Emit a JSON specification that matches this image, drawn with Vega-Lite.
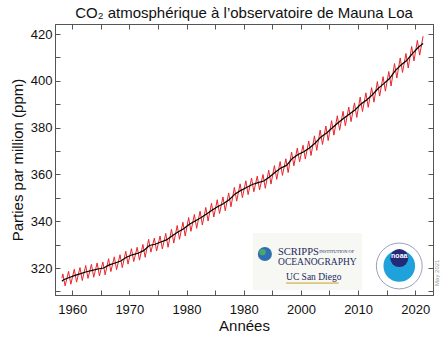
{
  "$schema": "https://vega.github.io/schema/vega-lite/v6.json",
  "width": 378,
  "height": 271,
  "autosize": {"type": "none"},
  "padding": {"left": 55, "top": 24, "right": 11, "bottom": 42},
  "background": "white",
  "config": {
    "font": "Liberation Sans",
    "view": {"stroke": "#555", "strokeWidth": 1},
    "axis": {
      "grid": false,
      "domainColor": "#555",
      "tickColor": "#555",
      "tickSize": -5,
      "labelFont": "Liberation Sans",
      "labelFontSize": 13,
      "labelColor": "#111",
      "titleFont": "Liberation Sans",
      "titleFontSize": 15,
      "titleFontWeight": "normal",
      "titleColor": "#111"
    }
  },
  "title": {
    "text": "CO₂ atmosphérique à l’observatoire de Mauna Loa",
    "fontSize": 15,
    "fontWeight": "normal",
    "font": "Liberation Sans",
    "color": "#111",
    "anchor": "middle",
    "baseline": "alphabetic",
    "offset": -9
  },
  "datasets": {
    "seasonal": [
      {"t": 1958.21, "co2": 315.7}, {"t": 1958.37, "co2": 317.5}, {"t": 1958.77, "co2": 312.4},
      {"t": 1959.37, "co2": 318.6}, {"t": 1959.77, "co2": 313.1},
      {"t": 1960.37, "co2": 319.5}, {"t": 1960.77, "co2": 314.0},
      {"t": 1961.37, "co2": 320.2}, {"t": 1961.77, "co2": 314.7},
      {"t": 1962.37, "co2": 321.1}, {"t": 1962.77, "co2": 315.6},
      {"t": 1963.37, "co2": 321.6}, {"t": 1963.77, "co2": 316.1},
      {"t": 1964.37, "co2": 322.2}, {"t": 1964.77, "co2": 316.7},
      {"t": 1965.37, "co2": 322.6}, {"t": 1965.77, "co2": 317.1},
      {"t": 1966.37, "co2": 324.0}, {"t": 1966.77, "co2": 318.5},
      {"t": 1967.37, "co2": 324.8}, {"t": 1967.77, "co2": 319.3},
      {"t": 1968.37, "co2": 325.7}, {"t": 1968.77, "co2": 320.2},
      {"t": 1969.37, "co2": 327.2}, {"t": 1969.77, "co2": 321.7},
      {"t": 1970.37, "co2": 328.3}, {"t": 1970.77, "co2": 322.8},
      {"t": 1971.37, "co2": 328.9}, {"t": 1971.77, "co2": 323.4},
      {"t": 1972.37, "co2": 330.1}, {"t": 1972.77, "co2": 324.6},
      {"t": 1973.37, "co2": 332.3}, {"t": 1973.77, "co2": 326.8},
      {"t": 1974.37, "co2": 332.8}, {"t": 1974.77, "co2": 327.3},
      {"t": 1975.37, "co2": 333.7}, {"t": 1975.77, "co2": 328.2},
      {"t": 1976.37, "co2": 334.8}, {"t": 1976.77, "co2": 328.9},
      {"t": 1977.37, "co2": 336.6}, {"t": 1977.77, "co2": 330.7},
      {"t": 1978.37, "co2": 338.2}, {"t": 1978.77, "co2": 332.3},
      {"t": 1979.37, "co2": 339.6}, {"t": 1979.77, "co2": 333.7},
      {"t": 1980.37, "co2": 341.6}, {"t": 1980.77, "co2": 335.7},
      {"t": 1981.37, "co2": 342.9}, {"t": 1981.77, "co2": 337.0},
      {"t": 1982.37, "co2": 344.3}, {"t": 1982.77, "co2": 338.4},
      {"t": 1983.37, "co2": 345.9}, {"t": 1983.77, "co2": 340.1},
      {"t": 1984.37, "co2": 347.7}, {"t": 1984.77, "co2": 341.8},
      {"t": 1985.37, "co2": 349.2}, {"t": 1985.77, "co2": 343.3},
      {"t": 1986.37, "co2": 350.4}, {"t": 1986.77, "co2": 344.5},
      {"t": 1987.37, "co2": 352.1}, {"t": 1987.77, "co2": 346.2},
      {"t": 1988.37, "co2": 354.5}, {"t": 1988.77, "co2": 348.6},
      {"t": 1989.37, "co2": 356.0}, {"t": 1989.77, "co2": 350.1},
      {"t": 1990.37, "co2": 357.3}, {"t": 1990.77, "co2": 351.4},
      {"t": 1991.37, "co2": 358.5}, {"t": 1991.77, "co2": 352.6},
      {"t": 1992.37, "co2": 359.3}, {"t": 1992.77, "co2": 353.4},
      {"t": 1993.37, "co2": 360.0}, {"t": 1993.77, "co2": 354.1},
      {"t": 1994.37, "co2": 361.8}, {"t": 1994.77, "co2": 355.9},
      {"t": 1995.37, "co2": 363.8}, {"t": 1995.77, "co2": 357.9},
      {"t": 1996.37, "co2": 365.5}, {"t": 1996.77, "co2": 359.6},
      {"t": 1997.37, "co2": 366.7}, {"t": 1997.77, "co2": 360.8},
      {"t": 1998.37, "co2": 369.6}, {"t": 1998.77, "co2": 363.7},
      {"t": 1999.37, "co2": 371.3}, {"t": 1999.77, "co2": 365.4},
      {"t": 2000.37, "co2": 372.5}, {"t": 2000.77, "co2": 366.6},
      {"t": 2001.37, "co2": 374.3}, {"t": 2001.77, "co2": 368.1},
      {"t": 2002.37, "co2": 376.5}, {"t": 2002.77, "co2": 370.3},
      {"t": 2003.37, "co2": 379.0}, {"t": 2003.77, "co2": 372.8},
      {"t": 2004.37, "co2": 380.7}, {"t": 2004.77, "co2": 374.5},
      {"t": 2005.37, "co2": 383.0}, {"t": 2005.77, "co2": 376.8},
      {"t": 2006.37, "co2": 385.1}, {"t": 2006.77, "co2": 378.9},
      {"t": 2007.37, "co2": 387.0}, {"t": 2007.77, "co2": 380.8},
      {"t": 2008.37, "co2": 388.8}, {"t": 2008.77, "co2": 382.6},
      {"t": 2009.37, "co2": 390.6}, {"t": 2009.77, "co2": 384.4},
      {"t": 2010.37, "co2": 393.1}, {"t": 2010.77, "co2": 386.9},
      {"t": 2011.37, "co2": 394.9}, {"t": 2011.77, "co2": 388.7},
      {"t": 2012.37, "co2": 397.1}, {"t": 2012.77, "co2": 390.9},
      {"t": 2013.37, "co2": 399.7}, {"t": 2013.77, "co2": 393.5},
      {"t": 2014.37, "co2": 401.8}, {"t": 2014.77, "co2": 395.6},
      {"t": 2015.37, "co2": 404.0}, {"t": 2015.77, "co2": 397.8},
      {"t": 2016.37, "co2": 407.4}, {"t": 2016.77, "co2": 401.2},
      {"t": 2017.37, "co2": 409.8}, {"t": 2017.77, "co2": 403.6},
      {"t": 2018.37, "co2": 411.7}, {"t": 2018.77, "co2": 405.5},
      {"t": 2019.37, "co2": 414.7}, {"t": 2019.77, "co2": 408.5},
      {"t": 2020.37, "co2": 417.3}, {"t": 2020.77, "co2": 411.0},
      {"t": 2021.37, "co2": 419.1}
    ],
    "trend": [
      {"t": 1958.21, "co2": 314.4}, {"t": 1958.5, "co2": 315.0},
      {"t": 1959.5, "co2": 315.98}, {"t": 1960.5, "co2": 316.91}, {"t": 1961.5, "co2": 317.64},
      {"t": 1962.5, "co2": 318.45}, {"t": 1963.5, "co2": 318.99}, {"t": 1964.5, "co2": 319.62},
      {"t": 1965.5, "co2": 320.04}, {"t": 1966.5, "co2": 321.37}, {"t": 1967.5, "co2": 322.18},
      {"t": 1968.5, "co2": 323.05}, {"t": 1969.5, "co2": 324.62}, {"t": 1970.5, "co2": 325.68},
      {"t": 1971.5, "co2": 326.32}, {"t": 1972.5, "co2": 327.46}, {"t": 1973.5, "co2": 329.68},
      {"t": 1974.5, "co2": 330.19}, {"t": 1975.5, "co2": 331.13}, {"t": 1976.5, "co2": 332.03},
      {"t": 1977.5, "co2": 333.84}, {"t": 1978.5, "co2": 335.41}, {"t": 1979.5, "co2": 336.84},
      {"t": 1980.5, "co2": 338.76}, {"t": 1981.5, "co2": 340.12}, {"t": 1982.5, "co2": 341.48},
      {"t": 1983.5, "co2": 343.15}, {"t": 1984.5, "co2": 344.87}, {"t": 1985.5, "co2": 346.35},
      {"t": 1986.5, "co2": 347.61}, {"t": 1987.5, "co2": 349.31}, {"t": 1988.5, "co2": 351.69},
      {"t": 1989.5, "co2": 353.20}, {"t": 1990.5, "co2": 354.45}, {"t": 1991.5, "co2": 355.70},
      {"t": 1992.5, "co2": 356.54}, {"t": 1993.5, "co2": 357.21}, {"t": 1994.5, "co2": 358.96},
      {"t": 1995.5, "co2": 360.97}, {"t": 1996.5, "co2": 362.74}, {"t": 1997.5, "co2": 363.88},
      {"t": 1998.5, "co2": 366.84}, {"t": 1999.5, "co2": 368.54}, {"t": 2000.5, "co2": 369.71},
      {"t": 2001.5, "co2": 371.32}, {"t": 2002.5, "co2": 373.45}, {"t": 2003.5, "co2": 375.98},
      {"t": 2004.5, "co2": 377.70}, {"t": 2005.5, "co2": 379.98}, {"t": 2006.5, "co2": 382.09},
      {"t": 2007.5, "co2": 384.02}, {"t": 2008.5, "co2": 385.83}, {"t": 2009.5, "co2": 387.64},
      {"t": 2010.5, "co2": 390.10}, {"t": 2011.5, "co2": 391.85}, {"t": 2012.5, "co2": 394.06},
      {"t": 2013.5, "co2": 396.74}, {"t": 2014.5, "co2": 398.81}, {"t": 2015.5, "co2": 401.01},
      {"t": 2016.5, "co2": 404.41}, {"t": 2017.5, "co2": 406.76}, {"t": 2018.5, "co2": 408.72},
      {"t": 2019.5, "co2": 411.66}, {"t": 2020.5, "co2": 414.24}, {"t": 2021.37, "co2": 416.0}
    ]
  },
  "layer": [
    {
      "data": {"name": "seasonal"},
      "mark": {"type": "line", "color": "#e8262b", "strokeWidth": 1},
      "encoding": {
        "x": {
          "field": "t", "type": "quantitative",
          "scale": {"domain": [1957, 2023.1], "nice": false, "zero": false},
          "axis": {
            "orient": "bottom",
            "values": [1960, 1965, 1970, 1975, 1980, 1985, 1990, 1995, 2000, 2005, 2010, 2015, 2020],
            "format": "d",
            "labelExpr": "datum.value % 10 == 0 ? (datum.value == 1990 ? '1980' : datum.label) : ''",
            "labelPadding": 13,
            "title": "Années",
            "titlePadding": 2
          }
        },
        "y": {
          "field": "co2", "type": "quantitative",
          "scale": {"domain": [308.5, 424.3], "nice": false, "zero": false},
          "axis": {
            "orient": "left",
            "values": [310, 320, 330, 340, 350, 360, 370, 380, 390, 400, 410, 420],
            "format": "d",
            "labelExpr": "datum.value % 20 == 0 ? datum.label : ''",
            "labelPadding": 8,
            "title": "Parties par million (ppm)",
            "titlePadding": 5
          }
        }
      }
    },
    {
      "data": {"name": "trend"},
      "mark": {"type": "line", "color": "#000000", "strokeWidth": 1.2},
      "encoding": {
        "x": {
          "field": "t", "type": "quantitative",
          "axis": {
            "orient": "top",
            "values": [1960, 1965, 1970, 1975, 1980, 1985, 1990, 1995, 2000, 2005, 2010, 2015, 2020],
            "labels": false,
            "title": null
          }
        },
        "y": {
          "field": "co2", "type": "quantitative",
          "axis": {
            "orient": "right",
            "values": [310, 320, 330, 340, 350, 360, 370, 380, 390, 400, 410, 420],
            "labels": false,
            "title": null
          }
        }
      }
    },
    {
      "data": {"values": [{}]},
      "mark": {"type": "rect", "color": "#f7f7f4"},
      "encoding": {
        "x": {"datum": 1991.6, "type": "quantitative", "axis": null},
        "x2": {"datum": 2010.7},
        "y": {"datum": 335.0, "type": "quantitative", "axis": null},
        "y2": {"datum": 310.6}
      }
    },
    {
      "data": {"values": [{}]},
      "mark": {"type": "circle", "color": "#2f6fb3", "opacity": 1, "size": 200},
      "encoding": {
        "x": {"datum": 1993.7, "type": "quantitative", "axis": null},
        "y": {"datum": 326.0, "type": "quantitative", "axis": null}
      }
    },
    {
      "data": {"values": [{}]},
      "mark": {"type": "circle", "color": "#4aa86a", "opacity": 1, "size": 40},
      "encoding": {
        "x": {"datum": 1993.3, "type": "quantitative", "axis": null},
        "y": {"datum": 326.8, "type": "quantitative", "axis": null}
      }
    },
    {
      "data": {"values": [{}]},
      "mark": {"type": "text", "text": "SCRIPPS", "font": "Liberation Serif", "fontSize": 10.5, "color": "#1b2a5a", "align": "left", "baseline": "middle"},
      "encoding": {
        "x": {"datum": 1996.0, "type": "quantitative", "axis": null},
        "y": {"datum": 326.9, "type": "quantitative", "axis": null}
      }
    },
    {
      "data": {"values": [{}]},
      "mark": {"type": "text", "text": "INSTITUTION OF", "font": "Liberation Serif", "fontSize": 4.5, "color": "#1b2a5a", "align": "left", "baseline": "middle"},
      "encoding": {
        "x": {"datum": 2003.2, "type": "quantitative", "axis": null},
        "y": {"datum": 326.9, "type": "quantitative", "axis": null}
      }
    },
    {
      "data": {"values": [{}]},
      "mark": {"type": "text", "text": "OCEANOGRAPHY", "font": "Liberation Serif", "fontSize": 9.5, "color": "#1b2a5a", "align": "left", "baseline": "middle"},
      "encoding": {
        "x": {"datum": 1996.0, "type": "quantitative", "axis": null},
        "y": {"datum": 322.6, "type": "quantitative", "axis": null}
      }
    },
    {
      "data": {"values": [{}]},
      "mark": {"type": "text", "text": "UC San Diego", "font": "Liberation Serif", "fontSize": 9.5, "color": "#1b2a5a", "align": "left", "baseline": "middle"},
      "encoding": {
        "x": {"datum": 1997.4, "type": "quantitative", "axis": null},
        "y": {"datum": 316.2, "type": "quantitative", "axis": null}
      }
    },
    {
      "data": {"values": [{}]},
      "mark": {"type": "rule", "color": "#c9a227", "strokeWidth": 1},
      "encoding": {
        "x": {"datum": 1997.4, "type": "quantitative", "axis": null},
        "x2": {"datum": 2006.6},
        "y": {"datum": 313.6, "type": "quantitative", "axis": null}
      }
    },
    {
      "data": {"values": [{}]},
      "mark": {"type": "circle", "color": "#ffffff", "opacity": 1, "size": 2100, "stroke": "#9aa0bb", "strokeWidth": 1},
      "encoding": {
        "x": {"datum": 2017.2, "type": "quantitative", "axis": null},
        "y": {"datum": 320.9, "type": "quantitative", "axis": null}
      }
    },
    {
      "data": {"values": [{}]},
      "mark": {"type": "circle", "color": "#1fa2dc", "opacity": 1, "size": 1000},
      "encoding": {
        "x": {"datum": 2017.2, "type": "quantitative", "axis": null},
        "y": {"datum": 320.9, "type": "quantitative", "axis": null}
      }
    },
    {
      "data": {"values": [{}]},
      "mark": {"type": "circle", "color": "#222a78", "opacity": 1, "size": 330},
      "encoding": {
        "x": {"datum": 2017.2, "type": "quantitative", "axis": null},
        "y": {"datum": 324.3, "type": "quantitative", "axis": null}
      }
    },
    {
      "data": {"values": [{}]},
      "mark": {"type": "text", "text": "noaa", "font": "Liberation Sans", "fontWeight": "bold", "fontSize": 7, "color": "#ffffff", "align": "center", "baseline": "middle"},
      "encoding": {
        "x": {"datum": 2017.2, "type": "quantitative", "axis": null},
        "y": {"datum": 325.0, "type": "quantitative", "axis": null}
      }
    },
    {
      "data": {"values": [{}]},
      "mark": {"type": "text", "text": "May 2021", "font": "Liberation Sans", "fontSize": 6, "color": "#999999", "angle": 270, "align": "center", "baseline": "middle"},
      "encoding": {
        "x": {"datum": 2023.85, "type": "quantitative", "axis": null},
        "y": {"datum": 318.0, "type": "quantitative", "axis": null}
      }
    }
  ],
  "resolve": {"axis": {"x": "independent", "y": "independent"}}
}
